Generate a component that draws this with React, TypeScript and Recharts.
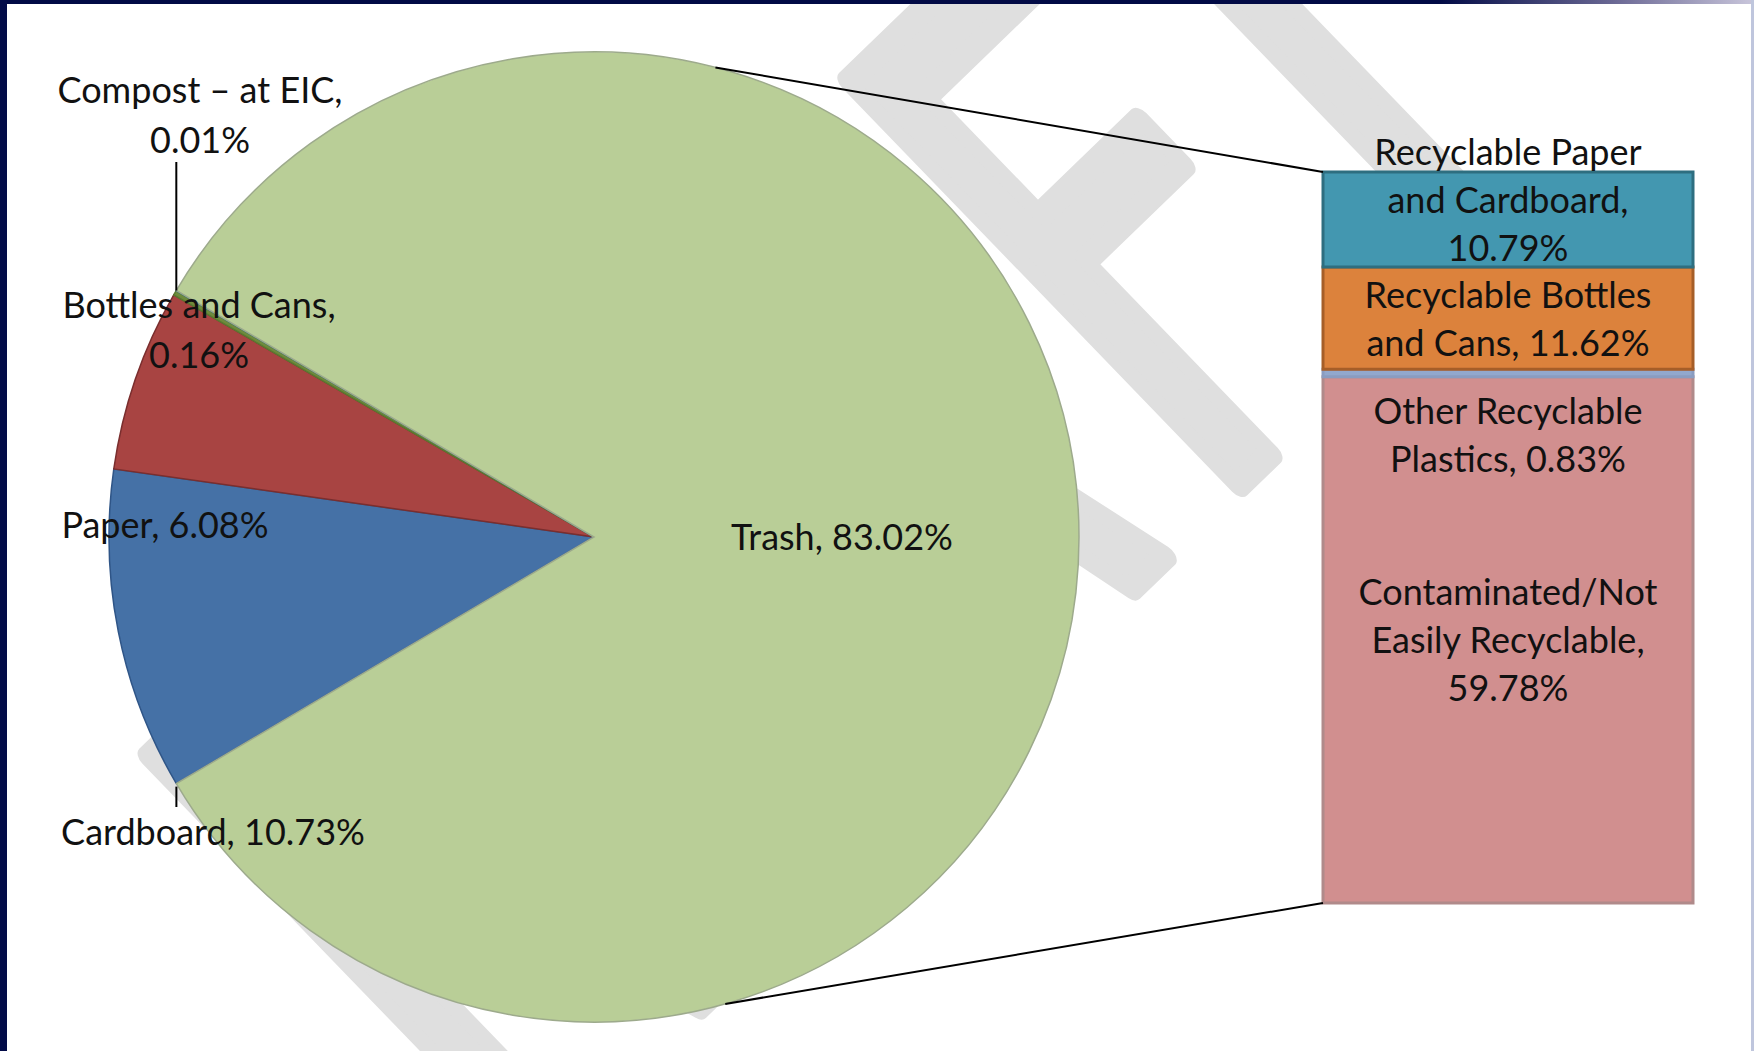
import React from 'react';
import { PieChart, Pie, Cell, BarChart, Bar, XAxis, YAxis } from 'recharts';

// ---------- data ----------
const pieNames = ['Cardboard', 'Paper', 'Bottles and Cans', 'Compost – at EIC', 'Trash'];
const pieValues = [10.73, 6.08, 0.16, 0.01, 83.02];
const pieColors = ['#4571A6', '#A84442', '#6E8B3D', '#4198AF', '#B9CE97'];
const pieStrokes = ['#2F5587', '#7A2E2E', '#5A7A30', '#2E6E80', '#9DAA8C'];

const barKeys = ['contaminated', 'other', 'bottles', 'paper'];
const barNames = [
  'Contaminated/Not Easily Recyclable',
  'Other Recyclable Plastics',
  'Recyclable Bottles and Cans',
  'Recyclable Paper and Cardboard',
];
const barValues = [59.78, 0.83, 11.62, 10.79];
const barColors = ['#D18F8F', '#92A8CD', '#DC823C', '#4397B0'];
const barStrokes = ['#B08A8A', '#8A9CC0', '#A65E28', '#2E6E80'];

const watermarkText = 'DRAFT';

// ---------- layout ----------
const W = 1754;
const H = 1051;
const PIE_CX = 594;
const PIE_CY = 537;
const PIE_R = 485;
const BAR_X = 1323;
const BAR_Y = 172;
const BAR_W = 370;
const BAR_H = 731;
const FONT = 'Lato, "Open Sans", sans-serif';
const FS = 36;
const LH = 50;
const BAR_LH = 48;
const WM_LETTER_X = [40, 1037, 2000, 2606, 3010];

const pieLabelLayout: Record<string, { dx: number; dy: number; leader?: 'up' | 'down' }> = {
  Cardboard: { dx: -381, dy: 295, leader: 'down' },
  Paper: { dx: -429, dy: -12 },
  'Bottles and Cans': { dx: -395, dy: -207 },
  'Compost – at EIC': { dx: -394, dy: -422, leader: 'up' },
  Trash: { dx: 248, dy: 0 },
};
const barLabelShift: Record<string, number> = { contaminated: 0, other: 62, bottles: 1, paper: -20 };

function wrap(text: string, max = 18): string[] {
  const words = text.split(' ');
  const lines: string[] = [];
  let cur = '';
  for (const w of words) {
    const next = cur ? cur + ' ' + w : w;
    if (next.length > max && cur) {
      lines.push(cur);
      cur = w;
    } else cur = next;
  }
  if (cur) lines.push(cur);
  return lines;
}

const total = pieValues.reduce((a, b) => a + b, 0);
const trashShare = pieValues[pieValues.length - 1] / total;
const START = 360 - trashShare * 180;
const END = START - 360;

function sliceAngles(i: number) {
  let a0 = START;
  for (let j = 0; j < i; j++) a0 -= (pieValues[j] / total) * 360;
  const a1 = a0 - (pieValues[i] / total) * 360;
  return { a0, a1, mid: (a0 + a1) / 2 };
}
function piePoint(deg: number, r = PIE_R) {
  const rad = (deg * Math.PI) / 180;
  return { x: PIE_CX + r * Math.cos(rad), y: PIE_CY - r * Math.sin(rad) };
}

const renderPieLabel = (props: any) => {
  const i = props.index;
  const name = pieNames[i];
  const lay = pieLabelLayout[name];
  const lines = wrap(`${name}, ${pieValues[i].toFixed(2)}%`);
  const cx0 = PIE_CX + lay.dx;
  const cy0 = PIE_CY + lay.dy;
  const top = cy0 - (lines.length * LH) / 2;
  const ang = sliceAngles(i);
  let leader = null;
  if (lay.leader === 'up') {
    const p = piePoint(ang.mid);
    leader = <line x1={p.x} y1={p.y} x2={p.x} y2={top + lines.length * LH - 3} stroke="#000" strokeWidth={2} />;
  } else if (lay.leader === 'down') {
    const p = piePoint(ang.a0);
    leader = <line x1={p.x} y1={p.y + 3} x2={p.x} y2={top} stroke="#000" strokeWidth={2} />;
  }
  return (
    <g key={`pl-${i}`}>
      {leader}
      <text textAnchor="middle" fontFamily={FONT} fontSize={FS} fill="#111">
        {lines.map((l, k) => (
          <tspan key={k} x={cx0} y={top + LH * (k + 0.5) + 13}>
            {l}
          </tspan>
        ))}
      </text>
    </g>
  );
};

const makeBarLabel = (i: number) => (props: any) => {
  const x = Number(props.x);
  const y = Number(props.y);
  const w = Number(props.width);
  const h = Number(props.height);
  const lines = wrap(`${barNames[i]}, ${barValues[i].toFixed(2)}%`);
  const cx0 = x + w / 2;
  const cy0 = y + h / 2 + barLabelShift[barKeys[i]];
  const top = cy0 - (lines.length * BAR_LH) / 2;
  return (
    <text key={`bl-${i}`} textAnchor="middle" fontFamily={FONT} fontSize={FS} fill="#111">
      {lines.map((l, k) => (
        <tspan key={k} x={cx0} y={top + BAR_LH * (k + 0.5) + 13}>
          {l}
        </tspan>
      ))}
    </text>
  );
};

export default function App() {
  const pieData = pieNames.map((name, i) => ({ name, value: pieValues[i] }));
  const row: Record<string, any> = { name: 'Trash' };
  barKeys.forEach((k, i) => (row[k] = barValues[i]));
  const barData = [row];
  const barTotal = barValues.reduce((a, b) => a + b, 0);

  const PAD_X = 40;
  const PAD_Y = 70;

  const topStart = piePoint(75.5);
  const botStart = piePoint(-74.3);

  return (
    <div
      style={{
        position: 'absolute',
        left: 0,
        top: 0,
        width: W,
        height: H,
        background: '#fff',
        overflow: 'hidden',
      }}
    >
      {/* watermark */}
      <svg width={W} height={H} style={{ position: 'absolute', left: 0, top: 0 }}>
        <text
          transform="translate(42,1641) rotate(-44) scale(0.62,1)"
          fontFamily='"DejaVu Sans", sans-serif'
          fontSize={770}
          fill="#DFDFDF"
          stroke="#DFDFDF"
          strokeWidth={26}
          vectorEffect="non-scaling-stroke"
          strokeLinejoin="round"
        >
          {watermarkText.split('').map((c, i) => (
            <tspan key={i} x={WM_LETTER_X[i]} y={0}>
              {c}
            </tspan>
          ))}
        </text>
      </svg>

      <div style={{ position: 'absolute', left: 0, top: 0 }}>
        <PieChart width={W} height={H} margin={{ top: 0, right: 0, bottom: 0, left: 0 }}>
          <Pie
            data={pieData}
            dataKey="value"
            nameKey="name"
            cx={PIE_CX}
            cy={PIE_CY}
            outerRadius={PIE_R}
            startAngle={START}
            endAngle={END}
            isAnimationActive={false}
            label={renderPieLabel}
            labelLine={false}
          >
            {pieData.map((d, i) => (
              <Cell key={d.name} fill={pieColors[i]} stroke={pieStrokes[i]} strokeWidth={1.5} />
            ))}
          </Pie>
        </PieChart>
      </div>

      <div style={{ position: 'absolute', left: BAR_X - PAD_X, top: BAR_Y - PAD_Y }}>
        <BarChart
          width={BAR_W + 2 * PAD_X}
          height={BAR_H + 2 * PAD_Y}
          data={barData}
          margin={{ top: PAD_Y, right: PAD_X, bottom: PAD_Y, left: PAD_X }}
          barCategoryGap={0}
          barGap={0}
        >
          <XAxis dataKey="name" hide />
          <YAxis type="number" domain={[0, barTotal]} hide />
          {barKeys.map((k, i) => (
            <Bar
              key={k}
              dataKey={k}
              stackId="s"
              fill={barColors[i]}
              stroke={barStrokes[i]}
              strokeWidth={3}
              isAnimationActive={false}
              label={makeBarLabel(i)}
            />
          ))}
        </BarChart>
      </div>

      {/* connector lines */}
      <svg width={W} height={H} style={{ position: 'absolute', left: 0, top: 0, pointerEvents: 'none' }}>
        <line x1={topStart.x} y1={topStart.y} x2={BAR_X} y2={BAR_Y} stroke="#000" strokeWidth={2} />
        <line x1={botStart.x} y1={botStart.y} x2={BAR_X} y2={BAR_Y + BAR_H} stroke="#000" strokeWidth={2} />
      </svg>

      {/* frame */}
      <div
        style={{
          position: 'absolute',
          left: 0,
          top: 0,
          width: W,
          height: 4,
          background: 'linear-gradient(to right, #010A45 0%, #010A45 82%, #6A6894 92%, #C9C6DB 100%)',
        }}
      />
      <div style={{ position: 'absolute', left: 0, top: 0, width: 7, height: H, background: '#020B48' }} />
      <div style={{ position: 'absolute', left: W - 3, top: 0, width: 3, height: H, background: '#BFC6DD' }} />
    </div>
  );
}
